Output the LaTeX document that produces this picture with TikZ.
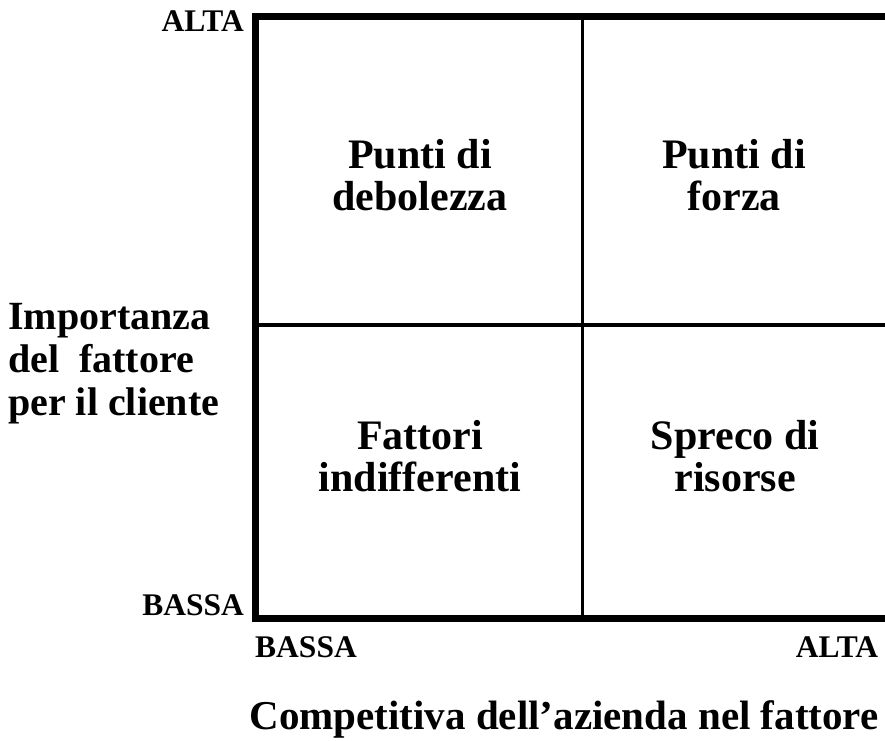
\documentclass[tikz,border=0pt]{standalone}
\usepackage{fontspec}
\setmainfont{Liberation Serif}
\begin{document}
\begin{tikzpicture}[x=1pt,y=-1pt,
  frame/.style={line width=7pt,line join=miter},
  divider/.style={line width=3.5pt},
  quadtext/.style={align=center,inner sep=0pt,font=\fontsize{42}{42.5}\selectfont\bfseries},
  axistext/.style={inner sep=0pt,font=\fontsize{31.5}{36}\selectfont\bfseries},
  sidetext/.style={align=left,inner sep=0pt,font=\fontsize{40}{43}\selectfont\bfseries},
  bottomtext/.style={inner sep=0pt,font=\fontsize{41}{46}\selectfont\bfseries}]
\useasboundingbox (0,0) rectangle (885,740);
\coordinate (tr) at (885,16.5);
\coordinate (tl) at (255.5,16.5);
\coordinate (bl) at (255.5,618.5);
\coordinate (br) at (885,618.5);
\coordinate (mt) at (582.5,16.5);
\coordinate (mb) at (582.5,618.5);
\coordinate (ml) at (255.5,325);
\coordinate (mr) at (885,325);
\draw[frame] (tr) -- (tl) -- (bl) -- (br);
\draw[divider] (mt) -- (mb);
\draw[divider] (ml) -- (mr);
\node[quadtext] (pd) at (420,175) {Punti di\\debolezza};
\node[quadtext] (pf) at (734,175) {Punti di\\forza};
\node[quadtext] (fi) at (420,456) {Fattori\\indifferenti};
\node[quadtext] (sr) at (735,456) {Spreco di\\risorse};
\node[sidetext,anchor=west] (imp) at (8,364) {Importanza\\del\ \ fattore\\per il cliente};
\node[axistext,anchor=east] (ya) at (244,21) {ALTA};
\node[axistext,anchor=east] (yb) at (244,605) {BASSA};
\node[axistext] (xb) at (306,647) {BASSA};
\node[axistext] (xa) at (837,647) {ALTA};
\node[bottomtext] (comp) at (564,719) {Competitiva dell’azienda nel fattore};
\end{tikzpicture}
\end{document}
